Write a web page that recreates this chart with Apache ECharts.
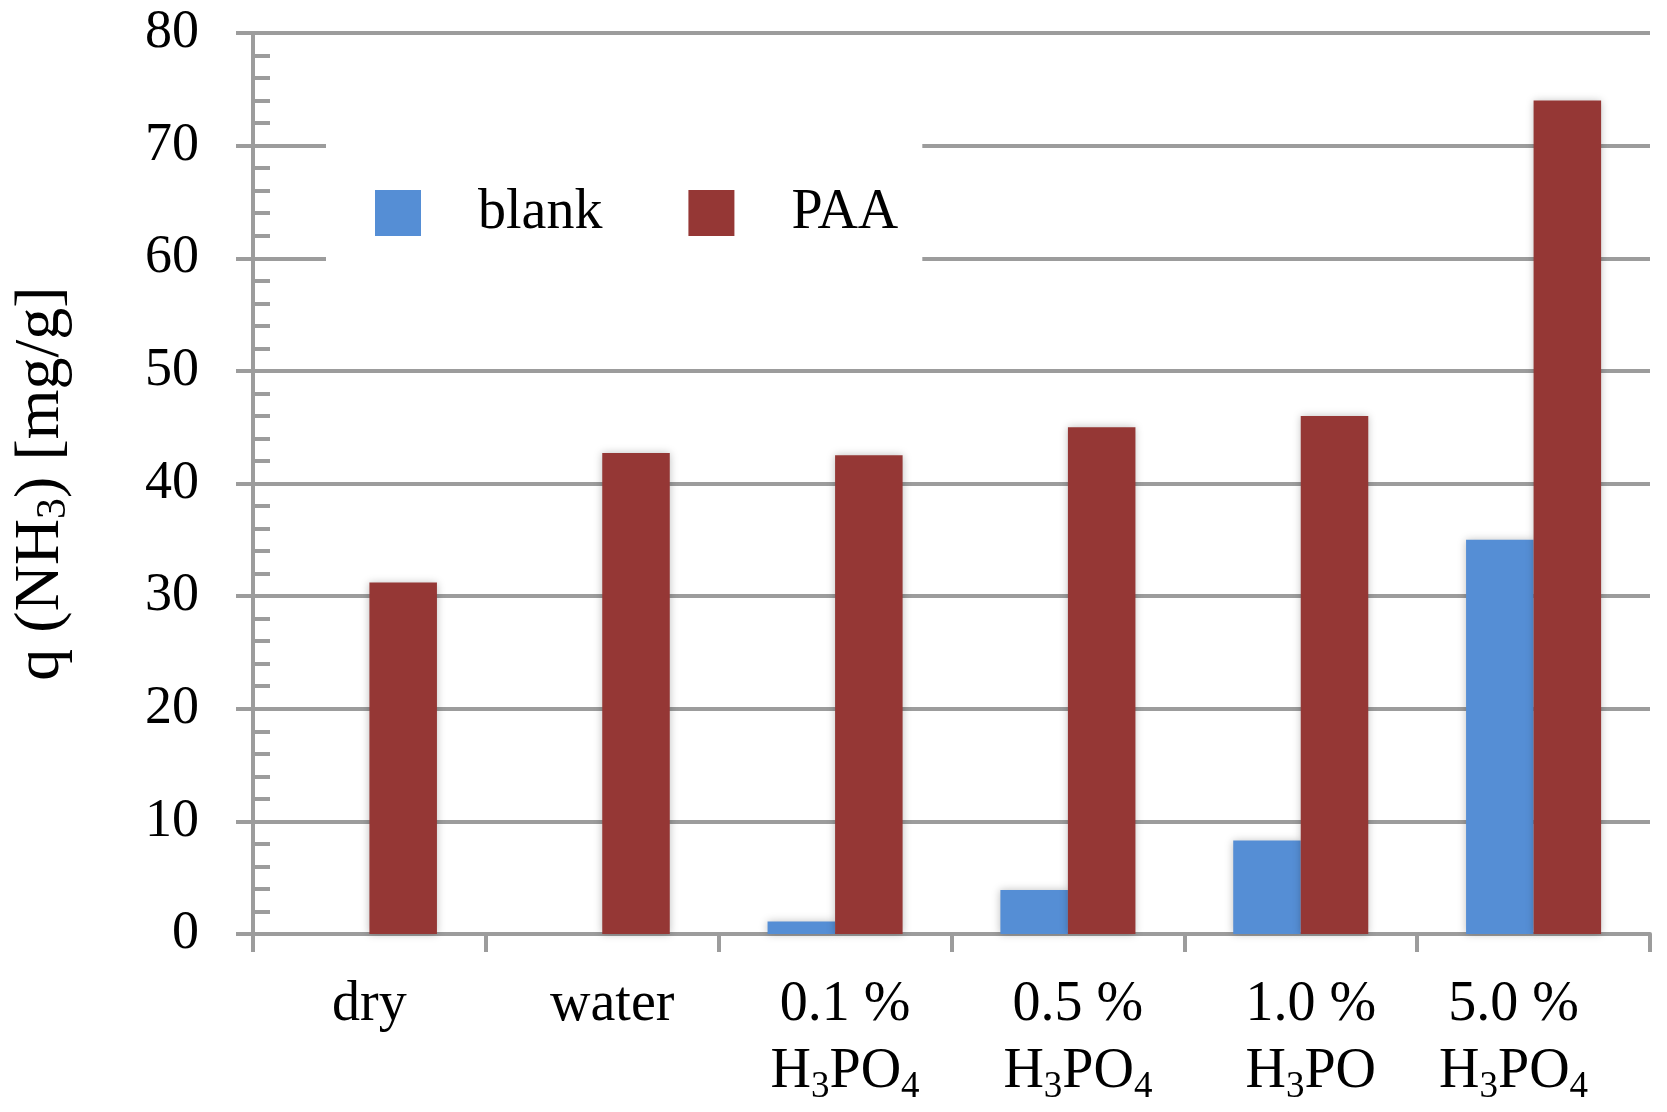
<!DOCTYPE html>
<html>
<head>
<meta charset="utf-8">
<script src="https://cdn.jsdelivr.net/npm/echarts@6/dist/echarts.min.js"></script>
<style>
html,body{margin:0;padding:0;background:#fff;}
#chart{width:1667px;height:1112px;}
</style>
</head>
<body>
<div id="chart"></div>
<script>
const categories = ['dry', 'water', '0.1 % H3PO4', '0.5 % H3PO4', '1.0 % H3PO', '5.0 % H3PO4'];
const blankValues = [0, 0, 1.1, 3.9, 8.3, 35.0];
const paaValues = [31.2, 42.7, 42.5, 45.0, 46.0, 74.0];
const yTicks = [0, 10, 20, 30, 40, 50, 60, 70, 80];

const FONT = '"Liberation Serif", "Times New Roman", serif';
const GRAY = '#9c9c9c';

function chem(str) {
  // turn digits following a letter into subscripts (rich text)
  let out = '', buf = '';
  for (let i = 0; i < str.length; i++) {
    const c = str[i];
    if (/\d/.test(c) && i > 0 && /[A-Za-z]/.test(str[i - 1])) {
      if (buf) { out += '{b|' + buf + '}'; buf = ''; }
      out += '{s|' + c + '}';
    } else {
      buf += c;
    }
  }
  if (buf) out += '{b|' + buf + '}';
  return out;
}

function catLabel(v, i) {
  const n = categories.length;
  const pre = (i > 0 && i < n - 1) ? '{gl| }' : '';
  const post = (i === n - 1) ? '{gr| }' : '';
  const idx = v.indexOf(' H');
  if (idx < 0) return pre + '{b|' + v + '}' + post;
  return pre + '{b|' + v.slice(0, idx) + '}' + post + '\n' + pre + chem(v.slice(idx + 1)) + post;
}

const chart = echarts.init(document.getElementById('chart'));
chart.setOption({
  backgroundColor: '#fff',
  animation: false,
  grid: { left: 253, right: 17, top: 33, bottom: 178 },
  legend: {
    data: ['blank', 'PAA'],
    left: 326,
    top: 133,
    orient: 'horizontal',
    icon: 'rect',
    itemWidth: 46,
    itemHeight: 46,
    itemGap: 86,
    backgroundColor: '#fff',
    padding: [52, 24, 52, 49],
    textStyle: { fontFamily: FONT, fontSize: 56, color: '#000', padding: [0, 0, 0, 52], lineHeight: 56 },
    z: 10
  },
  xAxis: {
    type: 'category',
    data: categories,
    axisLine: { show: true, lineStyle: { color: GRAY, width: 4 } },
    axisTick: { show: true, length: 18, lineStyle: { color: GRAY, width: 4 } },
    axisLabel: {
      margin: 38,
      interval: 0,
      formatter: catLabel,
      rich: {
        b: { fontFamily: FONT, fontSize: 56, color: '#000', lineHeight: 67 },
        s: { fontFamily: FONT, fontSize: 37, color: '#000', lineHeight: 37, verticalAlign: 'bottom' },
        gl: { width: 20, fontSize: 10, lineHeight: 10 },
        gr: { width: 40, fontSize: 10, lineHeight: 10 }
      }
    },
    splitLine: { show: false }
  },
  yAxis: [
    {
      type: 'value',
      min: 0,
      max: 80,
      interval: 10,
      name: '{t|q (NH}{s|3}{t|) [mg/g]}',
      nameLocation: 'middle',
      nameRotate: 90,
      nameGap: 178,
      nameTextStyle: {
        rich: {
          t: { fontFamily: FONT, fontSize: 64, color: '#000', lineHeight: 68 },
          s: { fontFamily: FONT, fontSize: 42, color: '#000', lineHeight: 42, verticalAlign: 'bottom' }
        }
      },
      axisLine: { show: true, lineStyle: { color: GRAY, width: 4 } },
      axisTick: { show: true, length: 17, lineStyle: { color: GRAY, width: 4 } },
      axisLabel: {
        margin: 54,
        fontFamily: FONT,
        fontSize: 54,
        color: '#000',
        formatter: function (v) { return yTicks.indexOf(v) >= 0 ? String(v) : ''; }
      },
      splitLine: { show: true, lineStyle: { color: GRAY, width: 4 } }
    },
    {
      type: 'value',
      min: 0,
      max: 80,
      interval: 2,
      position: 'left',
      axisLine: { show: true, lineStyle: { color: GRAY, width: 4 } },
      axisTick: { show: true, inside: true, length: 17, lineStyle: { color: GRAY, width: 4 } },
      axisLabel: { show: false },
      splitLine: { show: false }
    }
  ],
  series: [
    {
      name: 'blank',
      type: 'bar',
      data: blankValues,
      barWidth: '29%',
      barGap: '0%',
      itemStyle: { color: '#558ED5', shadowBlur: 8, shadowColor: 'rgba(0,0,0,0.25)' }
    },
    {
      name: 'PAA',
      type: 'bar',
      data: paaValues,
      barWidth: '29%',
      barGap: '0%',
      itemStyle: { color: '#953735', shadowBlur: 8, shadowColor: 'rgba(0,0,0,0.25)' }
    }
  ]
});
</script>
</body>
</html>
